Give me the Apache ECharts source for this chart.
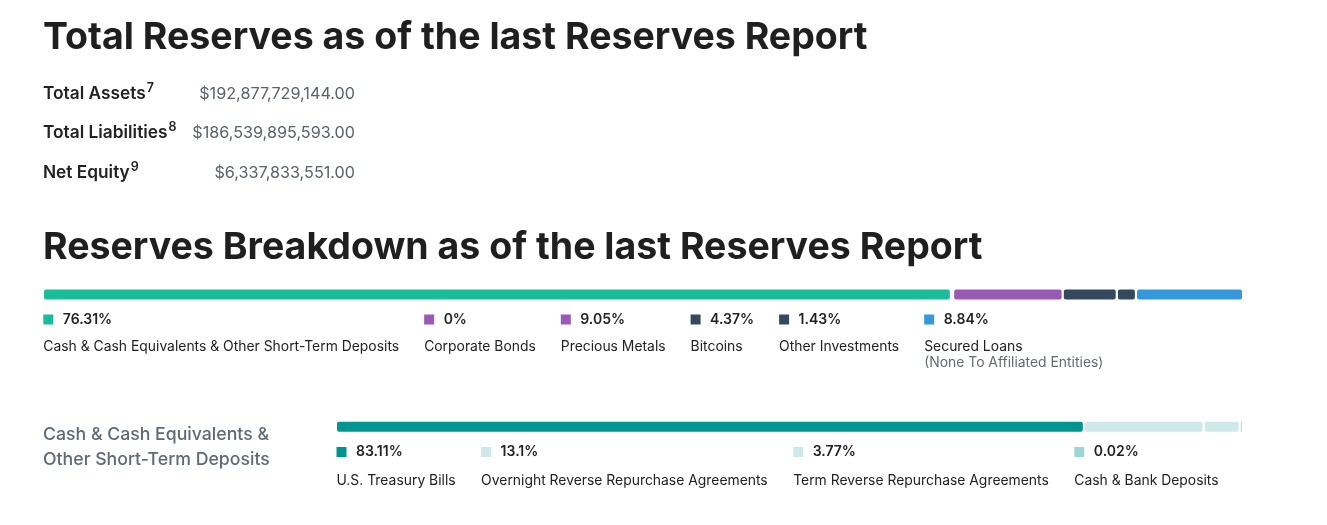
<!DOCTYPE html>
<html><head><meta charset="utf-8">
<script src="https://cdn.jsdelivr.net/npm/echarts@6/dist/echarts.min.js"></script>
<style>html,body{margin:0;padding:0;background:#fff}#c{width:1327px;height:525px}</style>
</head><body><div id="c"></div>
<script>
// ---- data ----
const titleMain = 'Total Reserves as of the last Reserves Report';
const titleBreakdown = 'Reserves Breakdown as of the last Reserves Report';
const summaryLabels = ['Total Assets', 'Total Liabilities', 'Net Equity'];
const summaryNotes = ['7', '8', '9'];
const summaryValues = ['$192,877,729,144.00', '$186,539,895,593.00', '$6,337,833,551.00'];

const reserveCategories = ['Cash & Cash Equivalents & Other Short-Term Deposits', 'Corporate Bonds', 'Precious Metals', 'Bitcoins', 'Other Investments', 'Secured Loans'];
const reserveSubNotes = ['', '', '', '', '', '(None To Affiliated Entities)'];
const reserveValues = [76.31, 0, 9.05, 4.37, 1.43, 8.84];

const cashHeading = ['Cash & Cash Equivalents &', 'Other Short-Term Deposits'];
const cashCategories = ['U.S. Treasury Bills', 'Overnight Reverse Repurchase Agreements', 'Term Reverse Repurchase Agreements', 'Cash & Bank Deposits'];
const cashValues = [83.11, 13.1, 3.77, 0.02];

// ---- styles ----
const reserveColors = ['#1abc9c', '#9b59b6', '#9b59b6', '#34495e', '#34495e', '#3498db'];
const cashColors = ['#00958f', '#cde9e9', '#cde9e9', '#9dd6d3'];
const FONT = 'Inter, "Noto Sans", sans-serif';
const DARK = '#222222';
const GREY = '#5b626b';
const SEG_GAP = 2.2;   // flex-like gap between bar segments
const LAB = 13.9;      // legend label font size

const chart = echarts.init(document.getElementById('c'), null, { renderer: 'canvas', width: 1327, height: 525 });
const mctx = document.createElement('canvas').getContext('2d');
function tw(str, size, weight) { mctx.font = weight + ' ' + size + 'px ' + FONT; return mctx.measureText(str).width; }

const graphics = [];
function txt(x, y, str, size, weight, color, align) {
  graphics.push({
    type: 'text', x: x, y: y, silent: true,
    style: { text: str, font: weight + ' ' + size + 'px ' + FONT, fill: color,
      textAlign: align || 'left', align: align || 'left', textVerticalAlign: 'middle', verticalAlign: 'middle' }
  });
}
function sq(x, yc, color) {
  graphics.push({ type: 'rect', silent: true, shape: { x: x, y: yc - 5, width: 10, height: 10 }, style: { fill: color } });
}

// Titles
txt(43, 38, titleMain, 37.5, 700, '#1f1f1f');
txt(43, 248, titleBreakdown, 37.5, 700, '#1f1f1f');

// Summary rows
const rowY = [93.5, 133, 172.5];
summaryLabels.forEach(function (lab, i) {
  txt(43, rowY[i], lab, 17.3, 600, DARK);
  const w = tw(lab, 17.3, 600);
  txt(43 + w + 1, rowY[i] - 5.5, summaryNotes[i], 12.5, 600, DARK);
  txt(355, rowY[i] + 0.5, summaryValues[i], 16.2, 400, GREY, 'right');
});

// Legend rows laid out like a flex row
function legendRow(cats, vals, colors, subs, x0, yPct, yLab, gap) {
  let x = x0;
  cats.forEach(function (c, i) {
    const pct = vals[i] + '%';
    sq(x, yPct, colors[i]);
    txt(x + 19.5, yPct, pct, 14, 600, DARK);
    txt(x, yLab, c, LAB, 400, DARK);
    let wSub = 0;
    if (subs && subs[i]) { txt(x, yLab + 16, subs[i], LAB, 400, '#666b73'); wSub = tw(subs[i], LAB, 400); }
    const w = Math.max(19.5 + tw(pct, 14, 600), tw(c, LAB, 400), wSub);
    x += w + gap;
  });
}
legendRow(reserveCategories, reserveValues, reserveColors, reserveSubNotes, 43.3, 319.5, 347, 25);

// Cash heading
txt(43, 435, cashHeading[0], 17.7, 500, '#5e6a75');
txt(43, 459.5, cashHeading[1], 17.7, 500, '#5e6a75');
legendRow(cashCategories, cashValues, cashColors, null, 336.5, 452, 480.5, 25.5);

// Segmented bar as a custom series: segment extents come from the value axis,
// plus a fixed flex gap after each preceding segment.
function segmentSeries(values, colors, axisIdx, name) {
  const starts = [];
  let acc = 0;
  values.forEach(function (v) { starts.push(acc); acc += v; });
  return {
    type: 'custom', name: name, xAxisIndex: axisIdx, yAxisIndex: axisIdx, silent: true,
    data: values.map(function (v, i) { return [starts[i], v, i]; }),
    encode: { x: [0], y: -1 },
    renderItem: function (params, api) {
      const s = api.value(0), v = api.value(1), i = api.value(2);
      const p0 = api.coord([s, 0]);
      const p1 = api.coord([s + v, 0]);
      const off = i * SEG_GAP;
      let w = p1[0] - p0[0];
      if (v > 0 && w < 1) w = 1;
      if (w <= 0) return null;
      return {
        type: 'rect',
        shape: { x: p0[0] + off, y: p0[1] - 5, width: w, height: 10, r: w > 4 ? 2 : 0 },
        style: { fill: colors[i] }
      };
    }
  };
}

chart.setOption({
  animation: false,
  backgroundColor: '#ffffff',
  grid: [
    { left: 44, top: 288.5, width: 1198 - 5 * SEG_GAP, height: 12 },
    { left: 337, top: 420.7, width: 904 - 3 * SEG_GAP, height: 12 }
  ],
  xAxis: [
    { gridIndex: 0, type: 'value', min: 0, max: 100, show: false },
    { gridIndex: 1, type: 'value', min: 0, max: 100, show: false }
  ],
  yAxis: [
    { gridIndex: 0, type: 'category', data: ['Reserves'], show: false },
    { gridIndex: 1, type: 'category', data: ['Cash'], show: false }
  ],
  series: [
    segmentSeries(reserveValues, reserveColors, 0, 'Reserves Breakdown'),
    segmentSeries(cashValues, cashColors, 1, 'Cash & Cash Equivalents')
  ],
  graphic: { elements: graphics }
});
</script></body></html>
